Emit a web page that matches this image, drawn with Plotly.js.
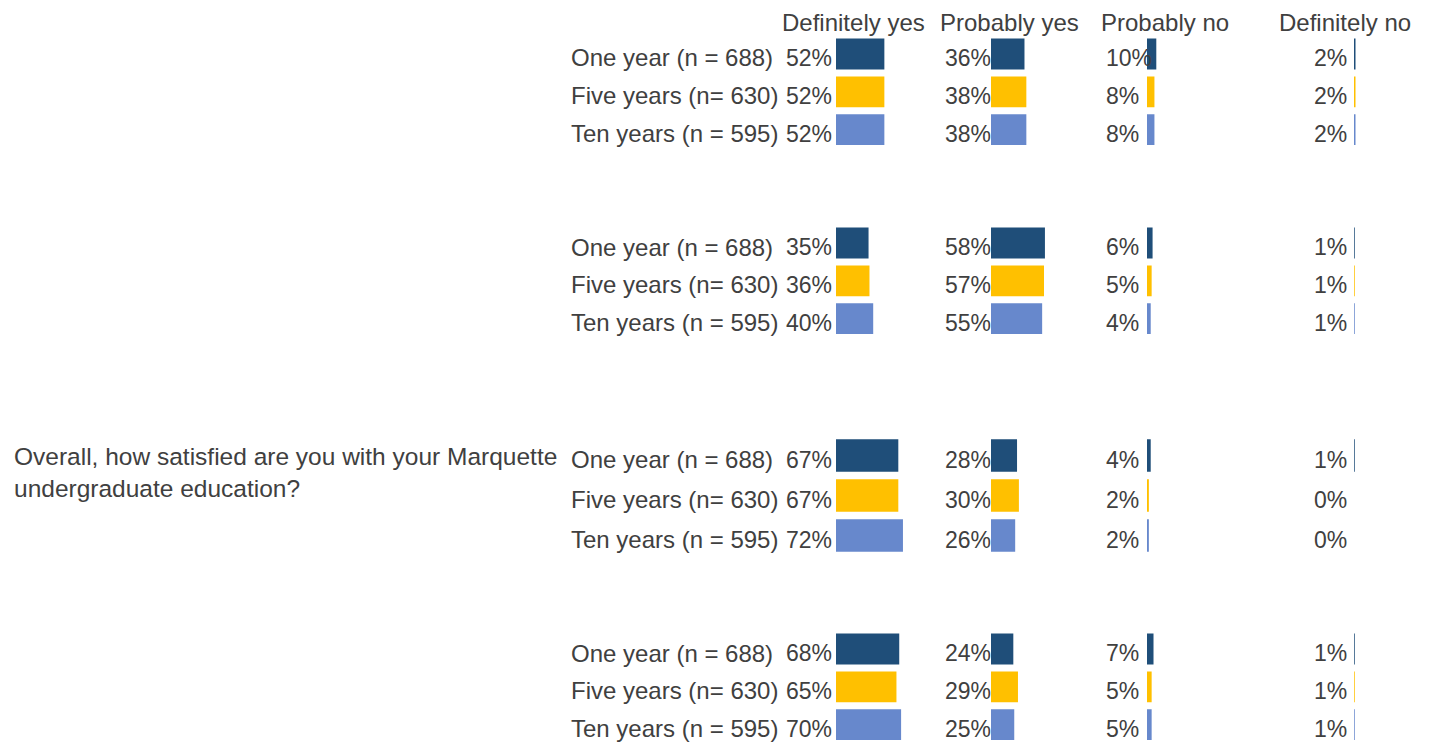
<!DOCTYPE html>
<html>
<head>
<meta charset="utf-8">
<script src="https://cdn.plot.ly/plotly-3.0.1.min.js"></script>
<style>html,body{margin:0;padding:0;background:#fff;}#chart{width:1429px;height:745px;}</style>
</head>
<body>
<div id="chart"></div>
<script>
// ---- data ----
const columns = ["Definitely yes", "Probably yes", "Probably no", "Definitely no"];
const rows = ["One year (n = 688)", "Five years (n= 630)", "Ten years (n = 595)"];
const questions = ["", "", "Overall, how satisfied are you with your Marquette<br>undergraduate education?", ""];
// values: rows x columns (percent)
const group1 = [[52, 36, 10, 2], [52, 38, 8, 2], [52, 38, 8, 2]];
const group2 = [[35, 58, 6, 1], [36, 57, 5, 1], [40, 55, 4, 1]];
const group3 = [[67, 28, 4, 1], [67, 30, 2, 0], [72, 26, 2, 0]];
const group4 = [[68, 24, 7, 1], [65, 29, 5, 1], [70, 25, 5, 1]];
const groups = [group1, group2, group3, group4];
const rowColors = ["#1f4e79", "#ffc000", "#6788cc"];

// ---- layout geometry (pixels) ----
const W = 1429, H = 745;
const fx = p => p / W;
const fy = p => 1 - p / H;
const colStart = [836, 991, 1147, 1354];
const colLen = 93;           // pixels for 100%
const pctLeft = [783.5, 943, 1104, 1312];
const headerCx = [853, 1010, 1165, 1345];
const groupSpan = [[34.5, 148.5], [223.5, 337.5], [435.5, 555.5], [629.5, 743.5]];
const textColor = "#404040";
const FONT = "Liberation Sans, Arial, sans-serif";
const FS = 24;
const FS_PCT = 23;

const traces = [];
const layout = {
  width: W, height: H,
  margin: {l: 0, r: 0, t: 0, b: 0},
  paper_bgcolor: "#fff", plot_bgcolor: "rgba(0,0,0,0)",
  showlegend: false,
  bargap: 0.184,
  font: {family: FONT, size: FS, color: textColor},
  annotations: []
};

columns.forEach((c, ci) => {
  const key = "xaxis" + (ci === 0 ? "" : ci + 1);
  layout[key] = {
    domain: [fx(colStart[ci]), fx(colStart[ci] + colLen)],
    range: [0, 100], showgrid: false, zeroline: false, showline: false,
    showticklabels: false, ticks: "", fixedrange: true,
    anchor: "free", position: 0
  };
  layout.annotations.push({
    xref: "paper", yref: "paper", x: fx(headerCx[ci]), y: fy(22),
    xanchor: "center", yanchor: "middle", showarrow: false, text: c
  });
});

groups.forEach((g, gi) => {
  const ykey = "yaxis" + (gi === 0 ? "" : gi + 1);
  const yref = "y" + (gi === 0 ? "" : gi + 1);
  layout[ykey] = {
    domain: [fy(groupSpan[gi][1]), fy(groupSpan[gi][0])],
    type: "category", categoryorder: "array", categoryarray: rows,
    autorange: "reversed", showgrid: false, zeroline: false, showline: false,
    showticklabels: false, ticks: "", fixedrange: true,
    anchor: "free", position: 0
  };
  columns.forEach((c, ci) => {
    const xref = "x" + (ci === 0 ? "" : ci + 1);
    traces.push({
      type: "bar", orientation: "h",
      x: g.map(r => r[ci]), y: rows,
      xaxis: xref, yaxis: yref,
      marker: {color: rowColors, line: {width: 0}},
      hoverinfo: "skip"
    });
    g.forEach((r, ri) => {
      layout.annotations.push({
        xref: "paper", yref: yref, x: fx(pctLeft[ci]), y: rows[ri],
        xanchor: "left", yanchor: "middle", yshift: -4,
        showarrow: false, text: r[ci] + "%", font: {size: FS_PCT}
      });
    });
  });
  rows.forEach(rl => {
    layout.annotations.push({
      xref: "paper", yref: yref, x: fx(569), y: rl,
      xanchor: "left", yanchor: "middle", yshift: -4,
      showarrow: false, text: rl
    });
  });
  if (questions[gi]) {
    layout.annotations.push({
      xref: "paper", yref: "paper", x: fx(12), y: fy(441),
      xanchor: "left", yanchor: "top", align: "left",
      showarrow: false, text: questions[gi], font: {size: 24.5}
    });
  }
});

Plotly.newPlot("chart", traces, layout, {displayModeBar: false, staticPlot: true});
</script>
</body>
</html>
